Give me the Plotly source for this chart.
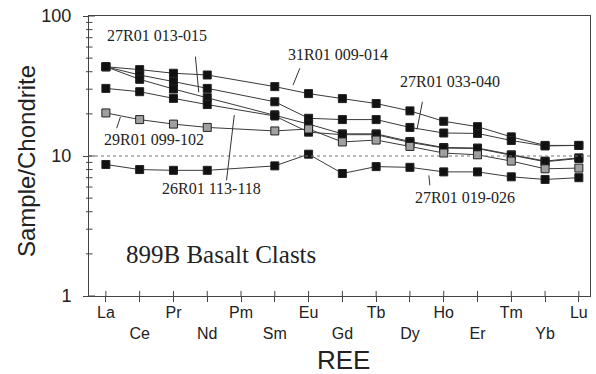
import numpy as np
import plotly.graph_objects as go

# REE categories (Pm has no data)
ree = ["La", "Ce", "Pr", "Nd", "Pm", "Sm", "Eu", "Gd", "Tb", "Dy", "Ho", "Er", "Tm", "Yb", "Lu"]
xpos = list(range(len(ree)))

s_31R01_009_014 = [43.4, 41.4, 39.0, 37.9, None, 31.3, 27.9, 25.7, 23.7, 21.0, 17.7, 16.2, 13.7, 11.9, 11.9]
s_27R01_033_040 = [43.4, 37.9, 34.0, 30.4, None, 24.4, 18.6, 18.2, 18.2, 16.0, 14.6, 14.5, 12.9, 11.8, 11.9]
s_27R01_013_015 = [43.4, 35.3, 30.1, 26.1, None, 19.7, 16.9, 14.4, 14.4, 12.7, 11.5, 11.4, 10.2, 9.2, 9.7]
s_26R01_113_118 = [30.4, 28.8, 25.8, 23.3, None, 19.3, 14.8, 14.2, 14.2, 12.5, 11.4, 11.3, 10.1, 9.1, 9.6]
s_29R01_099_102 = [20.3, 18.2, 16.9, 16.0, None, 15.1, 15.6, 12.6, 13.0, 11.7, 10.5, 10.2, 9.2, 8.1, 8.2]
s_27R01_019_026 = [8.7, 8.0, 7.9, 7.9, None, 8.5, 10.3, 7.5, 8.4, 8.3, 7.7, 7.7, 7.1, 6.8, 7.0]

series = [
    ("31R01 009-014", s_31R01_009_014, "#111111"),
    ("27R01 033-040", s_27R01_033_040, "#111111"),
    ("27R01 013-015", s_27R01_013_015, "#111111"),
    ("26R01 113-118", s_26R01_113_118, "#111111"),
    ("29R01 099-102", s_29R01_099_102, "#a0a0a0"),
    ("27R01 019-026", s_27R01_019_026, "#111111"),
]

# label text, position (x index, log10 y), leader line (x0, y0, x1, y1 in data units)
labels = [
    ("27R01 013-015", 1.51, 1.858, (2.65, 51.3, 2.75, 28.5)),
    ("31R01 009-014", 6.88, 1.722, (5.74, 42.3, 5.54, 32.1)),
    ("27R01 033-040", 10.18, 1.530, (9.37, 24.4, 9.21, 15.5)),
    ("29R01 099-102", 1.43, 1.118, (0.32, 15.8, 0.43, 19.0)),
    ("26R01 113-118", 3.13, 0.766, (3.57, 6.7, 3.80, 19.6)),
    ("27R01 019-026", 10.63, 0.702, (9.56, 7.27, 9.59, 6.17)),
]

fig = go.Figure()
for name, vals, fill in series:
    fig.add_trace(go.Scatter(
        x=xpos, y=vals, mode="lines+markers", name=name, connectgaps=True,
        line=dict(color="#3a3a3a", width=1),
        marker=dict(symbol="square", size=8, color=fill, line=dict(color="#222222", width=1)),
        showlegend=False, hoverinfo="skip",
    ))

shapes = []
# dotted reference line at 10
shapes.append(dict(type="line", xref="paper", yref="y", x0=0, x1=1, y0=10, y1=10,
                   line=dict(color="#777777", width=1, dash="dot")))
# inside parts of x ticks
for i in xpos:
    shapes.append(dict(type="line", xref="x", yref="paper", x0=i, x1=i, y0=0, y1=0.018,
                       line=dict(color="#444444", width=1)))
# y minor ticks crossing, major inside part
minor_vals = [2, 3, 4, 5, 6, 7, 8, 9, 20, 30, 40, 50, 60, 70, 80, 90]
for v in minor_vals:
    shapes.append(dict(type="line", xref="paper", yref="y", x0=-0.006, x1=0.007, y0=v, y1=v,
                       line=dict(color="#444444", width=1)))
for v in [1, 10, 100]:
    shapes.append(dict(type="line", xref="paper", yref="y", x0=0, x1=0.012, y0=v, y1=v,
                       line=dict(color="#444444", width=1)))

annotations = []
for text, lx, ly, (x0, y0, x1, y1) in labels:
    annotations.append(dict(text=text, x=lx, y=ly, xref="x", yref="y", showarrow=False,
                            font=dict(family="Liberation Serif", size=16, color="#222222"),
                            xanchor="center", yanchor="middle"))
    shapes.append(dict(type="line", xref="x", yref="y", x0=x0, x1=x1, y0=y0, y1=y1,
                       line=dict(color="#333333", width=1)))

annotations.append(dict(text="899B Basalt Clasts", x=3.40, y=0.295, xref="x", yref="y",
                        showarrow=False, font=dict(family="Liberation Serif", size=25, color="#222222"),
                        xanchor="center", yanchor="middle"))
annotations.append(dict(text="REE", x=0.507, y=-0.228, xref="paper", yref="paper", showarrow=False,
                        font=dict(family="Liberation Sans", size=26, color="#222222"),
                        xanchor="center", yanchor="middle"))
annotations.append(dict(text="Sample/Chondrite", x=-0.126, y=0.4816, xref="paper", yref="paper",
                        showarrow=False, textangle=-90,
                        font=dict(family="Liberation Sans", size=24, color="#222222"),
                        xanchor="center", yanchor="middle"))

ticktext = [t if i % 2 == 0 else "<br>" + t for i, t in enumerate(ree)]

fig.update_layout(
    width=596, height=374,
    margin=dict(l=89, r=6, t=16, b=78),
    paper_bgcolor="white", plot_bgcolor="white",
    shapes=shapes, annotations=annotations,
    xaxis=dict(range=[-0.5, 14.33], tickvals=xpos, ticktext=ticktext,
               showline=True, mirror=True, linecolor="#444444", linewidth=1,
               ticks="outside", ticklen=5, tickcolor="#444444", showgrid=False, zeroline=False,
               ticklabelstandoff=-3,
               tickfont=dict(family="Liberation Sans", size=16, color="#222222")),
    yaxis=dict(type="log", range=[0, 2], tickvals=[1, 10, 100], ticktext=["1", "10", "100"],
               showline=True, mirror=True, linecolor="#444444", linewidth=1,
               ticks="outside", ticklen=5, tickcolor="#444444", showgrid=False, zeroline=False,
               ticklabelstandoff=8,
               tickfont=dict(family="Liberation Sans", size=18, color="#222222")),
)

fig.write_html("out.html")
